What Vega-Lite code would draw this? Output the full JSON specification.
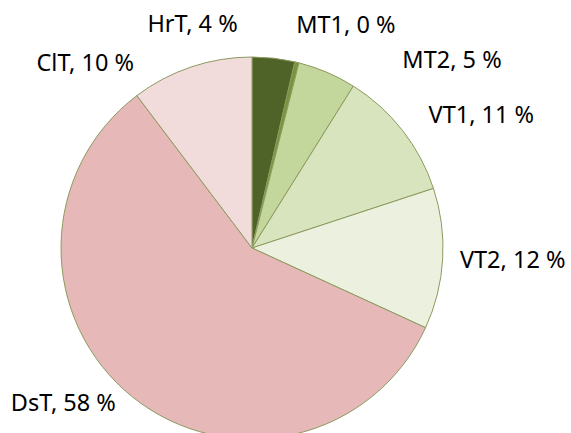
{
  "$schema": "https://vega.github.io/schema/vega-lite/v6.json",
  "width": 504,
  "height": 370,
  "padding": {"left": 0, "top": 63, "right": 67, "bottom": 0},
  "autosize": {"type": "none"},
  "background": "white",
  "view": {"stroke": null},
  "data": {
    "values": [
      {"idx": 1, "cat": "HrT", "value": 3.6, "label": "HrT, 4 %"},
      {"idx": 2, "cat": "MT1", "value": 0.35, "label": "MT1, 0 %"},
      {"idx": 3, "cat": "MT2", "value": 4.95, "label": "MT2, 5 %"},
      {"idx": 4, "cat": "VT1", "value": 11.05, "label": "VT1, 11 %"},
      {"idx": 5, "cat": "VT2", "value": 11.9, "label": "VT2, 12 %"},
      {"idx": 6, "cat": "DsT", "value": 57.85, "label": "DsT, 58 %"},
      {"idx": 7, "cat": "ClT", "value": 10.3, "label": "ClT, 10 %"}
    ]
  },
  "encoding": {
    "theta": {"field": "value", "type": "quantitative", "stack": true},
    "order": {"field": "idx", "type": "quantitative"}
  },
  "layer": [
    {
      "mark": {"type": "arc", "radius": 191, "stroke": "#8C9A5E", "strokeWidth": 1},
      "encoding": {
        "color": {
          "field": "cat",
          "type": "nominal",
          "scale": {
            "domain": ["HrT", "MT1", "MT2", "VT1", "VT2", "DsT", "ClT"],
            "range": ["#4F6228", "#77933C", "#C3D69B", "#D7E4BD", "#EBF1DE", "#E6B9B8", "#F2DCDB"]
          },
          "legend": null
        }
      }
    },
    {
      "mark": {"type": "text", "radius": 191, "dx": -81, "dy": -33, "font": "Noto Sans", "fontSize": 23.5, "align": "center", "baseline": "middle", "color": "#000000"},
      "encoding": {"text": {"condition": {"test": "datum.cat === 'HrT'", "field": "label"}, "value": ""}}
    },
    {
      "mark": {"type": "text", "radius": 191, "dx": 49, "dy": -36, "font": "Noto Sans", "fontSize": 23.5, "align": "center", "baseline": "middle", "color": "#000000"},
      "encoding": {"text": {"condition": {"test": "datum.cat === 'MT1'", "field": "label"}, "value": ""}}
    },
    {
      "mark": {"type": "text", "radius": 191, "dx": 125, "dy": -11, "font": "Noto Sans", "fontSize": 23.5, "align": "center", "baseline": "middle", "color": "#000000"},
      "encoding": {"text": {"condition": {"test": "datum.cat === 'MT2'", "field": "label"}, "value": ""}}
    },
    {
      "mark": {"type": "text", "radius": 191, "dx": 79, "dy": -14, "font": "Noto Sans", "fontSize": 23.5, "align": "center", "baseline": "middle", "color": "#000000"},
      "encoding": {"text": {"condition": {"test": "datum.cat === 'VT1'", "field": "label"}, "value": ""}}
    },
    {
      "mark": {"type": "text", "radius": 191, "dx": 70, "dy": 2, "font": "Noto Sans", "fontSize": 23.5, "align": "center", "baseline": "middle", "color": "#000000"},
      "encoding": {"text": {"condition": {"test": "datum.cat === 'VT2'", "field": "label"}, "value": ""}}
    },
    {
      "mark": {"type": "text", "radius": 191, "dx": -69, "dy": 7, "font": "Noto Sans", "fontSize": 23.5, "align": "center", "baseline": "middle", "color": "#000000"},
      "encoding": {"text": {"condition": {"test": "datum.cat === 'DsT'", "field": "label"}, "value": ""}}
    },
    {
      "mark": {"type": "text", "radius": 191, "dx": -106, "dy": -3, "font": "Noto Sans", "fontSize": 23.5, "align": "center", "baseline": "middle", "color": "#000000"},
      "encoding": {"text": {"condition": {"test": "datum.cat === 'ClT'", "field": "label"}, "value": ""}}
    }
  ]
}
